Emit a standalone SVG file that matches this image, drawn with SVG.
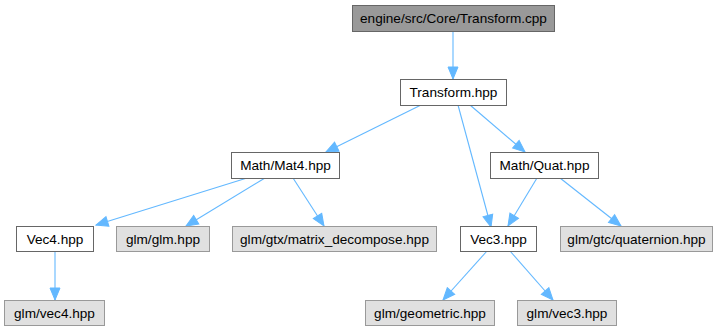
<svg xmlns="http://www.w3.org/2000/svg" width="720" height="331" viewBox="0 0 720 331">
  <style>
    .box rect { stroke-width: 1; }
    .root rect { fill: #999999; stroke: #666666; }
    .local rect { fill: #ffffff; stroke: #666666; }
    .ext rect { fill: #e0e0e0; stroke: #999999; }
    text { font-family: "Liberation Sans", Arial, Helvetica, sans-serif; font-size: 13.6px; fill: #000000; text-anchor: middle; }
    .edges path { fill: none; stroke: #63b8ff; stroke-width: 1.1; marker-end: url(#arrow); }
  </style>
  <defs>
    <marker id="arrow" markerUnits="userSpaceOnUse" markerWidth="14" markerHeight="14" viewBox="0 0 14 14" refX="13" refY="7" orient="auto">
      <path d="M1,2 L13,7 L1,12 Z" fill="#63b8ff" stroke="#63b8ff" stroke-width="1"/>
    </marker>
  </defs>
  <rect width="720" height="331" fill="#ffffff"/>

  <g class="edges">
    <path d="M453,31 L453,79"/>
    <path d="M421,105 L326,152"/>
    <path d="M458,105 L491,227"/>
    <path d="M470,105 L525,152"/>
    <path d="M247,178 L96,225"/>
    <path d="M265,178 L186,226"/>
    <path d="M293,178 L324,226"/>
    <path d="M537,178 L508,226"/>
    <path d="M560,178 L621,226"/>
    <path d="M55,251 L55,300"/>
    <path d="M487,251 L443,300"/>
    <path d="M510,251 L553,300"/>
  </g>

  <g id="node-transform-cpp" class="box root">
    <rect x="352.5" y="5.5" width="202" height="26"/>
    <text x="453.5" y="23">engine/src/Core/Transform.cpp</text>
  </g>
  <g id="node-transform-hpp" class="box local">
    <rect x="400.5" y="79.5" width="106" height="26"/>
    <text x="453.5" y="97">Transform.hpp</text>
  </g>
  <g id="node-mat4" class="box local">
    <rect x="231.5" y="152.5" width="108" height="26"/>
    <text x="285.5" y="170">Math/Mat4.hpp</text>
  </g>
  <g id="node-quat" class="box local">
    <rect x="490.5" y="152.5" width="108" height="26"/>
    <text x="544.5" y="170">Math/Quat.hpp</text>
  </g>
  <g id="node-vec4" class="box local">
    <rect x="16.5" y="226.5" width="77" height="25"/>
    <text x="55" y="243.5">Vec4.hpp</text>
  </g>
  <g id="node-glm-glm" class="box ext">
    <rect x="116.5" y="226.5" width="93" height="25"/>
    <text x="163" y="243.5">glm/glm.hpp</text>
  </g>
  <g id="node-matrix-decompose" class="box ext">
    <rect x="232.5" y="226.5" width="204" height="25"/>
    <text x="334.5" y="243.5">glm/gtx/matrix_decompose.hpp</text>
  </g>
  <g id="node-vec3" class="box local">
    <rect x="460.5" y="226.5" width="76" height="25"/>
    <text x="498.5" y="243.5">Vec3.hpp</text>
  </g>
  <g id="node-quaternion" class="box ext">
    <rect x="560.5" y="226.5" width="152" height="25"/>
    <text x="636.5" y="243.5">glm/gtc/quaternion.hpp</text>
  </g>
  <g id="node-glm-vec4" class="box ext">
    <rect x="4.5" y="300.5" width="100" height="25"/>
    <text x="54.5" y="317.5">glm/vec4.hpp</text>
  </g>
  <g id="node-geometric" class="box ext">
    <rect x="365.5" y="300.5" width="129" height="25"/>
    <text x="430" y="317.5">glm/geometric.hpp</text>
  </g>
  <g id="node-glm-vec3" class="box ext">
    <rect x="517.5" y="300.5" width="99" height="25"/>
    <text x="567" y="317.5">glm/vec3.hpp</text>
  </g>
</svg>
